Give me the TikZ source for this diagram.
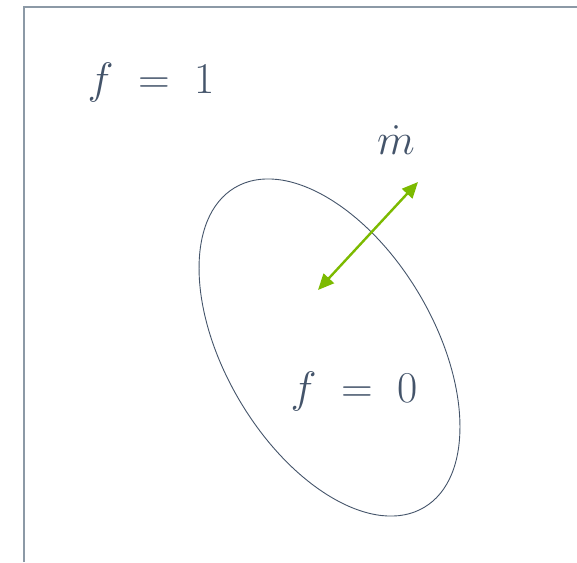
\RequirePackage{fix-cm}
\documentclass[tikz,border=0pt]{standalone}
\usetikzlibrary{shapes.geometric,arrows.meta}
\definecolor{txt}{HTML}{44546A}
\definecolor{grn}{HTML}{7CBA00}
\definecolor{frame}{HTML}{8C99A6}
\tikzset{
  lbl/.style={text=txt, inner sep=0pt, font=\fontsize{44}{52}\selectfont},
  flow/.style={grn, line width=2.4pt, {Triangle[length=16pt,width=14pt]}-{Triangle[length=16pt,width=14pt]}},
  region/.style={ellipse, draw=txt, line width=0.9pt, inner sep=0pt}
}
\begin{document}
\begin{tikzpicture}[x=1pt,y=-1pt]
\useasboundingbox (0,0) rectangle (577,562);
\coordinate (F1) at (24,562);
\coordinate (F2) at (24,7);
\coordinate (F3) at (577,7);
\draw[frame, line width=1.6pt] (F1) -- (F2) -- (F3);
\node[region, minimum width=371.6pt, minimum height=208.8pt, rotate=-59.4] (E) at (329.5,347.5) {};
\node[lbl] (f1) at (151,82) {$f\;=\;1$};
\node[lbl] (f0) at (354,391) {$f\;=\;0$};
\node[lbl] (md) at (396,140) {$\dot{m}$};
\coordinate (A1) at (318,290);
\coordinate (A2) at (418,182);
\draw[flow] (A1) -- (A2);
\end{tikzpicture}
\end{document}
